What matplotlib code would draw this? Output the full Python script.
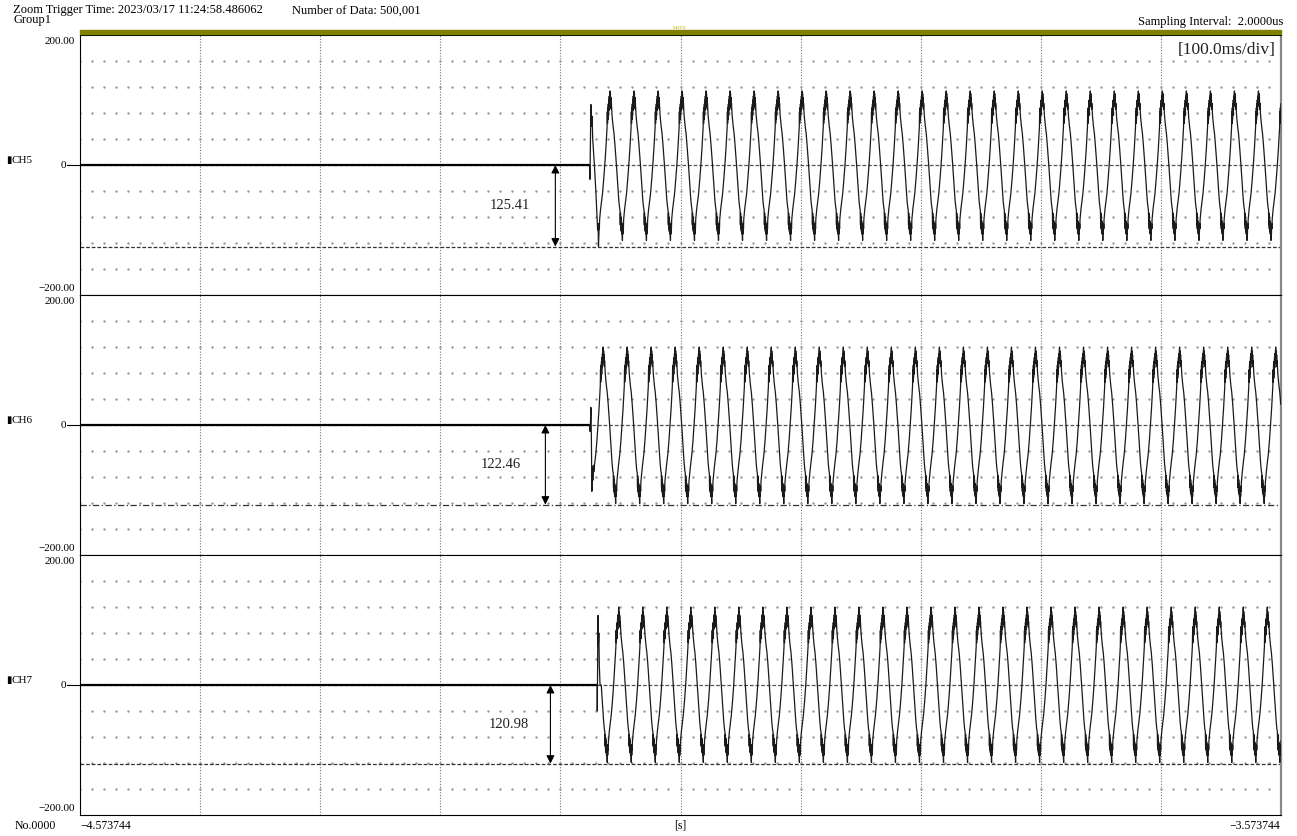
import matplotlib
matplotlib.use("Agg")

import numpy as np
import matplotlib.pyplot as plt
from matplotlib.patches import Rectangle
from matplotlib.transforms import blended_transform_factory

# ---------------------------------------------------------------------------
# Recorder data (time axis in ms from the left edge, 100 ms/div, 10 div)
# ---------------------------------------------------------------------------
CHANNELS = ["CH5", "CH6", "CH7"]
CURSOR = [125.41, 122.46, 120.98]          # measured drop to cursor line
ARROW_X = [395.8, 387.5, 391.7]            # ms, where the measurement arrow sits
LABEL_X = [358.0, 350.0, 357.0]

PERIOD = 20.0                              # 50 Hz
FIRST_PEAK = [441.25, 435.6, 448.6]

# one cycle, phase measured from the positive peak (ms)
CYCLE_T = [0, 0.2, 0.4, 0.6, 0.8, 1.0, 1.2, 1.8, 2.6, 3.4, 4.2, 5.4, 6.5, 7.4, 8.0,
           8.4, 8.6, 8.8, 9.0, 9.2, 9.4, 9.6, 9.8, 10.0, 10.2, 10.4, 10.6, 10.8, 11.0, 11.2, 11.4,
           12.2, 13.0, 13.8, 14.8, 15.7, 16.6, 17.2,
           17.6, 17.8, 18.0, 18.2, 18.4, 18.6, 18.8, 19.0, 19.2, 19.4, 19.6, 19.8]
CH5_CYCLE = [114, 96, 110, 90, 104, 86, 95, 75, 60, 48, 30, 0, -30, -55, -65,
             -70, -92, -74, -98, -80, -102, -86, -106, -90, -108, -116, -96, -106, -90, -98, -84,
             -68, -56, -44, -22, 0, 25, 45,
             58, 82, 64, 88, 70, 94, 76, 100, 84, 106, 92, 110]
CH6_CYCLE = [120, 100, 114, 94, 108, 90, 99, 78, 62, 50, 32, 0, -32, -58, -70,
             -74, -96, -78, -102, -84, -106, -90, -110, -94, -112, -121, -100, -110, -94, -102, -88,
             -72, -58, -46, -24, 0, 26, 47,
             60, 85, 66, 92, 72, 98, 78, 104, 88, 110, 96, 115]
CH7_CYCLE = [120, 101, 113, 93, 107, 89, 98, 78, 62, 50, 32, 0, -31, -56, -68,
             -72, -94, -76, -100, -82, -104, -88, -108, -92, -110, -119, -98, -108, -92, -100, -86,
             -70, -57, -45, -23, 0, 26, 46,
             59, 84, 65, 90, 71, 96, 77, 102, 86, 108, 94, 113]

# switching transients at the start of each trace
CH5_START_T = [424.2, 424.6, 425.4, 426.0, 426.4, 426.9, 428.3, 429.5, 430.5, 431.0, 431.4, 431.7, 432.2]
CH5_START_V = [0, -22, 93, 60, 75, 40, 0, -40, -80, -100, -90, -125.41, -100]
CH6_START_T = [424.2, 424.8, 425.4, 425.8, 426.2, 426.6, 427.0, 427.5]
CH6_START_V = [0, -10, 27, -20, -102, -65, -85, -62]
CH7_START_T = [430.6, 430.7, 431.3, 431.6, 432.0, 432.4, 433.0]
CH7_START_V = [0, -40, 107, 60, 80, 30, 0]

CYCLES = [CH5_CYCLE, CH6_CYCLE, CH7_CYCLE]
STARTS = [(CH5_START_T, CH5_START_V), (CH6_START_T, CH6_START_V), (CH7_START_T, CH7_START_V)]
CURSOR_STYLE = [(0, (3, 1.5)), (0, (5, 2, 1, 2)), (0, (3, 1.5))]

T_END = 1000.0


def build_trace(start_t, start_v, first_peak, cycle_v):
    t = list(start_t)
    v = list(start_v)
    k = -1
    while first_peak + k * PERIOD <= T_END:
        base = first_peak + k * PERIOD
        for ct, cv in zip(CYCLE_T, cycle_v):
            tt = base + ct
            if start_t[-1] < tt <= T_END:
                t.append(tt)
                v.append(cv)
        k += 1
    return np.array(t), np.array(v)


plt.rcParams["font.family"] = ["Liberation Serif", "DejaVu Sans"]

fig = plt.figure(figsize=(12.97, 8.36), dpi=100)
W, H = 1297.0, 836.0

left = 80 / W
width = 1201 / W
panel_h = 0.311
bottoms = [0.6471, 0.3361, 0.0251]

grid_x = np.arange(0, 1001, 10)
dot_rows = [-160, -120, -80, -40, 40, 80, 120, 160]

for i, name in enumerate(CHANNELS):
    ax = fig.add_axes([left, bottoms[i], width, panel_h])
    ax.set_xlim(0, T_END)
    ax.set_ylim(-200, 200)
    ax.set_xticks([])
    ax.set_yticks([])
    for sp in ax.spines.values():
        sp.set_linewidth(0.8)
        sp.set_color("black")
    ax.spines["right"].set_color("#888888")
    ax.spines["right"].set_linewidth(1.6)

    # division grid
    for xv in range(100, 1000, 100):
        ax.axvline(xv, color="#777777", lw=0.8, ls=(0, (1, 1.5)), zorder=1)
    for yv in dot_rows:
        ax.plot(grid_x, np.full_like(grid_x, yv, dtype=float), ls="none",
                marker="s", ms=0.7, color="#999999", zorder=1)

    # zero reference and cursor line
    ax.axhline(0, color="#555555", lw=0.9, ls=(0, (3, 1.5)), zorder=1)
    ax.axhline(-CURSOR[i], color="#333333", lw=0.9, ls=CURSOR_STYLE[i], zorder=1)

    st, sv = STARTS[i]
    t, v = build_trace(st, sv, FIRST_PEAK[i], CYCLES[i])
    ax.plot([0, st[0]], [0, 0], color="black", lw=1.6, zorder=3)
    ax.plot(t, v, color="#1a1a1a", lw=0.9, zorder=3)

    # cursor measurement
    ax.annotate("", xy=(ARROW_X[i], -CURSOR[i]), xytext=(ARROW_X[i], 0),
                arrowprops=dict(arrowstyle="<|-|>", color="black", lw=0.8,
                                mutation_scale=12, shrinkA=0, shrinkB=0), zorder=4)
    ax.text(LABEL_X[i], -CURSOR[i] / 2, f"{CURSOR[i]:.2f}", ha="center", va="center",
            fontsize=10.5, color="#222222")

    # left-hand scale labels (x in figure fraction, y in data units)
    tr = blended_transform_factory(fig.transFigure, ax.transData)
    ax.text(75 / W, 190, "200.00", transform=tr, ha="right", va="center",
            fontsize=8, clip_on=False)
    ax.text(75 / W, -190, "\u2212200.00", transform=tr, ha="right", va="center",
            fontsize=8, clip_on=False)
    ax.plot([67 / W, 80 / W], [0, 0], transform=tr, color="black", lw=0.8,
            clip_on=False)
    ax.text(66 / W, 0, "0", transform=tr, ha="right", va="center", fontsize=8,
            clip_on=False)
    ax.text(6 / W, 7, "\u25ae", transform=tr, ha="left", va="center",
            fontsize=7, family="DejaVu Sans", clip_on=False)
    ax.text(11 / W, 7, name, transform=tr, ha="left", va="center", fontsize=8,
            clip_on=False)

    if i == 0:
        ax.text(0.9955, 0.975, "[100.0ms/div]", transform=ax.transAxes,
                ha="right", va="top", fontsize=12.5, color="#222222")

# header bar and captions
fig.patches.append(Rectangle((80 / W, 1 - 34 / H), 1201 / W, 3.5 / H,
                             transform=fig.transFigure, color="#808000",
                             zorder=5))
fig.text(680 / W, 1 - 28 / H, "MATH", ha="center", va="center",
         fontsize=3.5, color="#b8b000")
fig.text(13 / W, 1 - 10.5 / H, "Zoom Trigger Time: 2023/03/17 11:24:58.486062",
         ha="left", va="center", fontsize=9)
fig.text(292 / W, 1 - 10.5 / H, "Number of Data: 500,001", ha="left",
         va="center", fontsize=9)
fig.text(13 / W, 1 - 20 / H, "Group1", ha="left", va="center", fontsize=9)
fig.text(1283 / W, 1 - 21.5 / H, "Sampling Interval:  2.0000us", ha="right",
         va="center", fontsize=9)

# time axis captions
fig.text(15 / W, 1 - 826 / H, "No.0000", ha="left", va="center", fontsize=8.5)
fig.text(80 / W, 1 - 826 / H, "\u22124.573744", ha="left", va="center",
         fontsize=8.5)
fig.text(680 / W, 1 - 826 / H, "[s]", ha="center", va="center", fontsize=8.5)
fig.text(1280 / W, 1 - 826 / H, "\u22123.573744", ha="right", va="center",
         fontsize=8.5)

fig.savefig("out.png", dpi=100, facecolor="white")
